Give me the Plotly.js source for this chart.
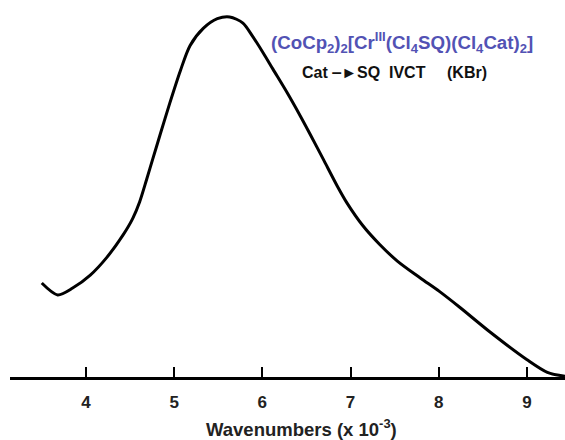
<!DOCTYPE html>
<html>
<head>
<meta charset="utf-8">
<script src="https://cdn.plot.ly/plotly-3.0.1.min.js"></script>
<style>html,body{margin:0;padding:0;background:#fff;}#chart{width:565px;height:440px;}</style>
</head>
<body>
<div id="chart"></div>
<script>
// Wavenumber (x 10^-3 cm^-1) and relative absorbance
const wavenumbers = [3.50, 3.68, 3.85, 4.05, 4.24, 4.42, 4.53, 4.61, 4.69, 4.76, 4.84, 4.95, 5.07, 5.18, 5.33, 5.49, 5.63, 5.78, 5.89, 6.01, 6.12, 6.28, 6.43, 6.54, 6.69, 6.85, 6.96, 7.14, 7.33, 7.53, 7.79, 8.01, 8.24, 8.58, 9.00, 9.23, 9.43];
const absorbance  = [0.261, 0.228, 0.247, 0.283, 0.333, 0.394, 0.440, 0.487, 0.550, 0.607, 0.672, 0.760, 0.850, 0.920, 0.968, 0.995, 1.000, 0.983, 0.946, 0.900, 0.855, 0.790, 0.725, 0.675, 0.605, 0.530, 0.483, 0.420, 0.368, 0.322, 0.275, 0.237, 0.193, 0.125, 0.048, 0.013, 0.002];
const tickValues = [4, 5, 6, 7, 8, 9];
const tickLabels = ["4", "5", "6", "7", "8", "9"];
const compoundLabel = "(CoCp<sub>2</sub>)<sub>2</sub>[Cr<sup>III</sup>(Cl<sub>4</sub>SQ)(Cl<sub>4</sub>Cat)<sub>2</sub>]";
const bandLabel = "Cat \u2012\u25BASQ  IVCT";
const mediumLabel = "(KBr)";
const xTitle = "Wavenumbers (x 10<sup>-3</sup>)";

const FONT = "Liberation Sans, Arial, sans-serif";

const trace = {
  x: wavenumbers, y: absorbance, mode: "lines", type: "scatter",
  line: {color: "#000", width: 3, shape: "spline", smoothing: 0.8},
  hoverinfo: "skip", cliponaxis: true
};

const layout = {
  width: 565, height: 440,
  margin: {l: 10, r: 0, t: 0, b: 63},
  paper_bgcolor: "#fff", plot_bgcolor: "#fff",
  showlegend: false,
  font: {family: FONT, color: "#222"},
  xaxis: {
    range: [3.14, 9.43], showgrid: false, zeroline: false,
    showline: true, linecolor: "#000", linewidth: 2.5,
    ticks: "inside", ticklen: 10, tickwidth: 2, tickcolor: "#000",
    tickvals: tickValues, ticktext: tickLabels,
    tickfont: {size: 17, color: "#222", family: FONT, weight: "bold"},
    ticklabelstandoff: 8
  },
  yaxis: {
    range: [0, 1.047], visible: false, showgrid: false, zeroline: false
  },
  annotations: [
    {text: xTitle, xref: "paper", yref: "paper", x: (301-10)/555, y: -(428-377)/377, xanchor: "center", yanchor: "middle", showarrow: false,
     font: {size: 18.5, color: "#222", family: FONT, weight: "bold"}},
    {text: compoundLabel, xref: "paper", yref: "paper", x: 259/555, y: (377-43)/377, xanchor: "left", yanchor: "middle", showarrow: false,
     font: {size: 18.7, color: "#5252b4", family: FONT, weight: "bold"}},
    {text: bandLabel, xref: "paper", yref: "paper", x: 290/555, y: (377-73)/377, xanchor: "left", yanchor: "middle", showarrow: false,
     font: {size: 16, color: "#111", family: FONT, weight: "bold"}},
    {text: mediumLabel, xref: "paper", yref: "paper", x: 435/555, y: (377-73)/377, xanchor: "left", yanchor: "middle", showarrow: false,
     font: {size: 16, color: "#111", family: FONT, weight: "bold"}}
  ]
};

Plotly.newPlot("chart", [trace], layout, {displayModeBar: false, staticPlot: true});
</script>
</body>
</html>
